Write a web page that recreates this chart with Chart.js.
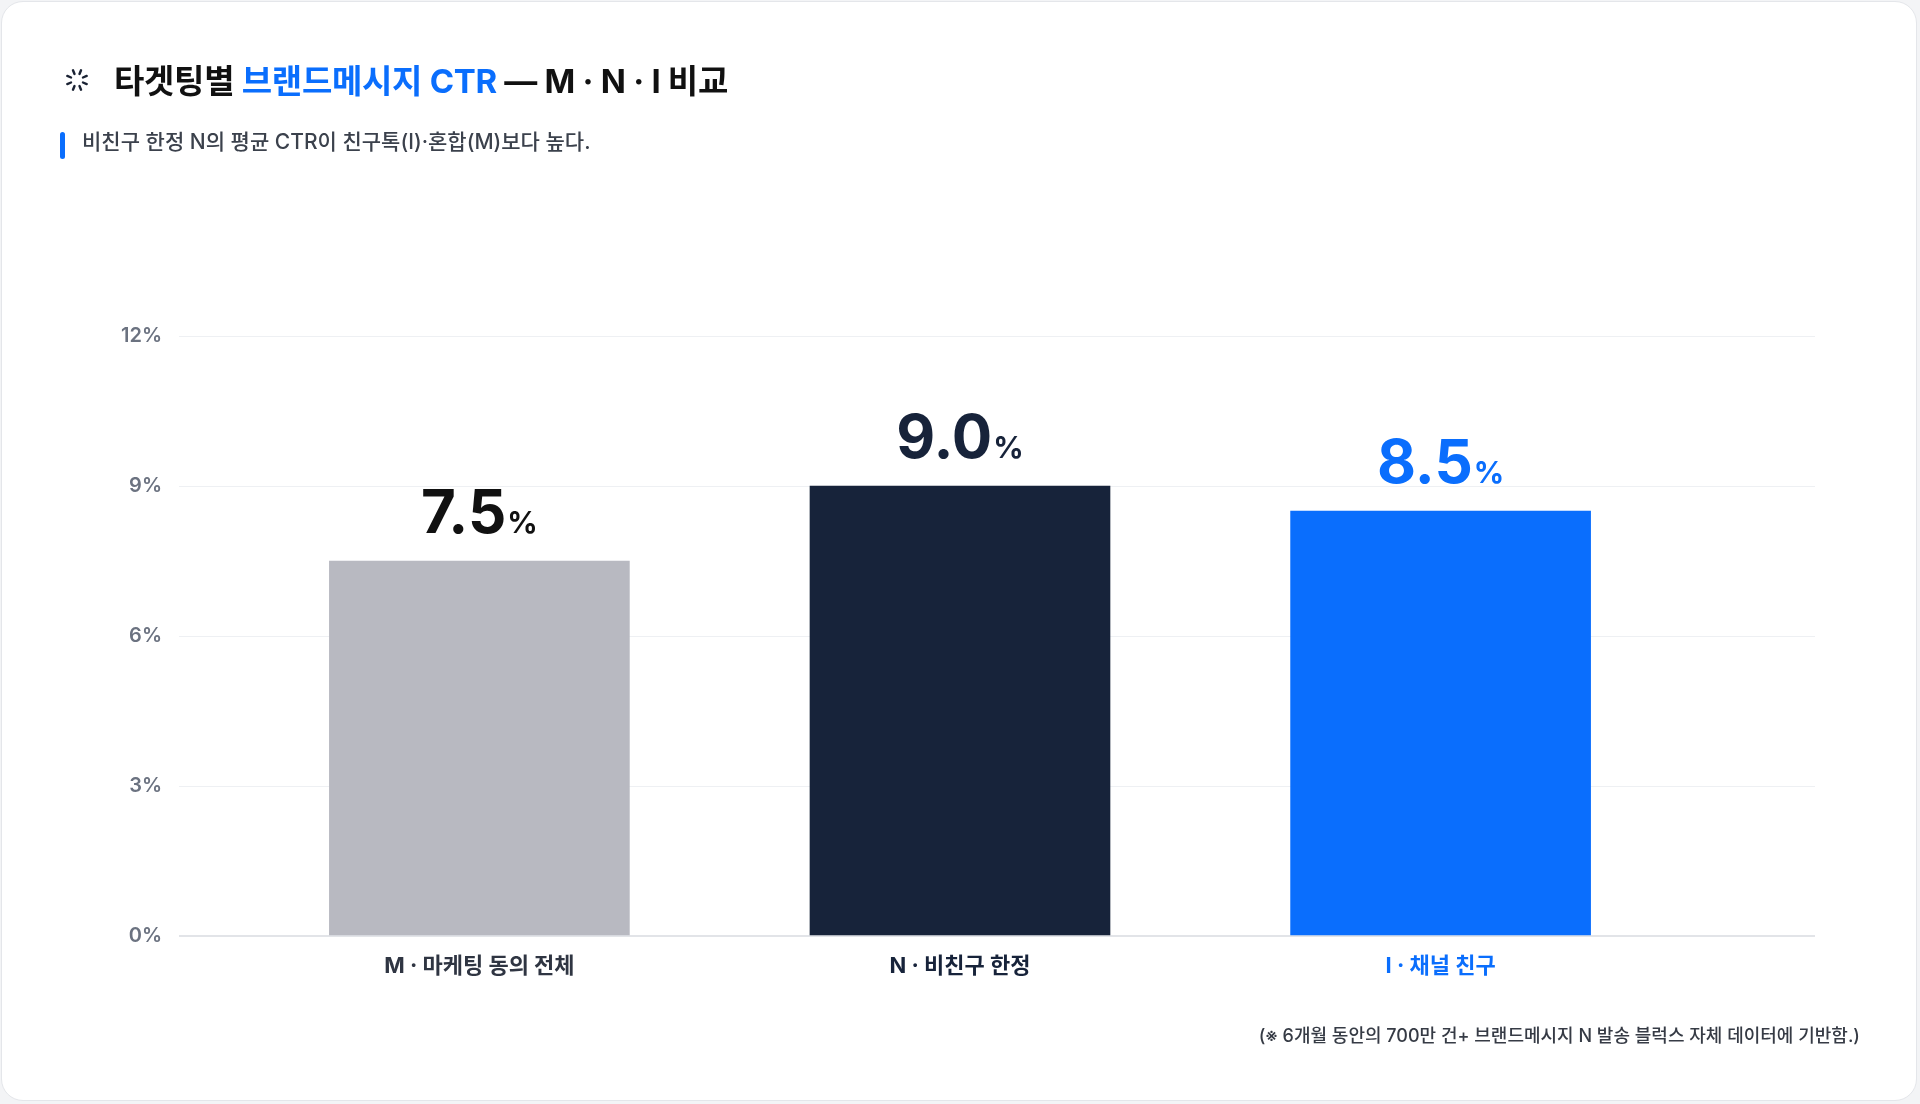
<!DOCTYPE html>
<html lang="ko">
<head>
<meta charset="utf-8">
<title>타겟팅별 브랜드메시지 CTR</title>
<script src="https://cdn.jsdelivr.net/npm/chart.js@4.4.1/dist/chart.umd.min.js"></script>
<style>
  html, body { margin: 0; padding: 0; }
  body {
    width: 1920px; height: 1104px; position: relative; overflow: hidden;
    background: #f3f4f6;
    font-family: "Inter", "Noto Sans CJK KR", sans-serif;
  }
  .card {
    position: absolute; left: 1px; top: 1px; width: 1914px; height: 1098px;
    background: #fff; border: 1px solid #e4e6ea; border-radius: 22px;
  }
  .chart-wrap { position: absolute; left: 0; top: 0; width: 1920px; height: 1104px; }
  .icon { position: absolute; left: 64px; top: 67px; }
  .title {
    position: absolute; left: 114px; top: 60px; line-height: 42px;
    font-size: 33px; font-weight: 700; color: #111111; letter-spacing: -0.3px;
    white-space: nowrap;
  }
  .title .hl { color: #0a6efd; }
  .sub-bar {
    position: absolute; left: 60px; top: 132px; width: 5px; height: 27px;
    background: #0a6efd; border-radius: 3px;
  }
  .subtitle {
    position: absolute; left: 82px; top: 128px; line-height: 28px;
    font-size: 21px; font-weight: 500; color: #3b414c; white-space: nowrap;
  }
  .note {
    position: absolute; right: 60px; top: 1023px; line-height: 26px;
    font-size: 18px; font-weight: 500; color: #363b45; white-space: nowrap;
  }
</style>
</head>
<body>
<div class="card"></div>
<div class="chart-wrap"><canvas id="ctrChart"></canvas></div>

<svg class="icon" width="26" height="26" viewBox="-13 -13 26 26">
  <g stroke="#1a2233" stroke-width="2.4" stroke-linecap="round">
    <line x1="0" y1="-6.5" x2="0" y2="-10.5" transform="rotate(22.5)"/>
    <line x1="0" y1="-6.5" x2="0" y2="-10.5" transform="rotate(67.5)"/>
    <line x1="0" y1="-6.5" x2="0" y2="-10.5" transform="rotate(112.5)"/>
    <line x1="0" y1="-6.5" x2="0" y2="-10.5" transform="rotate(157.5)"/>
    <line x1="0" y1="-6.5" x2="0" y2="-10.5" transform="rotate(202.5)"/>
    <line x1="0" y1="-6.5" x2="0" y2="-10.5" transform="rotate(247.5)"/>
    <line x1="0" y1="-6.5" x2="0" y2="-10.5" transform="rotate(292.5)"/>
    <line x1="0" y1="-6.5" x2="0" y2="-10.5" transform="rotate(337.5)"/>
  </g>
</svg>
<div class="title">타겟팅별 <span class="hl">브랜드메시지 CTR</span> — M · N · I 비교</div>
<div class="sub-bar"></div>
<div class="subtitle">비친구 한정 N의 평균 CTR이 친구톡(I)·혼합(M)보다 높다.</div>
<div class="note">(※ 6개월 동안의 700만 건+ 브랜드메시지 N 발송 블럭스 자체 데이터에 기반함.)</div>

<script>
const categories = ["M · 마케팅 동의 전체", "N · 비친구 한정", "I · 채널 친구"];
const ctrValues = [7.5, 9.0, 8.5];
const yTickValues = [0, 3, 6, 9, 12];

const barColors = ["#b8b9c1", "#17233a", "#0a6efd"];
const valueColors = ["#111111", "#17233a", "#0a6efd"];
const catColors = ["#2f3542", "#17233a", "#0a6efd"];

// big number + small "%" above each bar
const valueLabels = {
  id: "valueLabels",
  afterDatasetsDraw(chart) {
    const { ctx } = chart;
    const meta = chart.getDatasetMeta(0);
    meta.data.forEach((bar, i) => {
      const num = ctrValues[i].toFixed(1);
      ctx.save();
      ctx.textBaseline = "alphabetic";
      ctx.textAlign = "left";
      ctx.fillStyle = valueColors[i];
      ctx.font = "700 60px Inter, sans-serif";
      const wNum = ctx.measureText(num).width;
      ctx.font = "700 30px Inter, sans-serif";
      const wPct = ctx.measureText("%").width;
      const gap = 1;
      const x0 = bar.x - (wNum + gap + wPct) / 2;
      const y0 = bar.y - 28;
      ctx.font = "700 60px Inter, sans-serif";
      ctx.fillText(num, x0, y0);
      ctx.font = "700 30px Inter, sans-serif";
      ctx.fillText("%", x0 + wNum + gap, y0);
      ctx.restore();
    });
  },
};

new Chart(document.getElementById("ctrChart"), {
  type: "bar",
  data: {
    datasets: [
      {
        data: ctrValues.map((v, i) => ({ x: i + 1, y: v })),
        backgroundColor: barColors,
        borderWidth: 0,
        barThickness: 300,
      },
    ],
  },
  options: {
    responsive: true,
    maintainAspectRatio: false,
    animation: false,
    devicePixelRatio: 1,
    layout: { padding: { left: 0, top: 336, right: 105, bottom: 0 } },
    plugins: {
      legend: { display: false },
      tooltip: { enabled: false },
    },
    scales: {
      x: {
        type: "linear",
        min: 0.375,
        max: 3.779,
        offset: false,
        grid: { display: false },
        border: { display: false },
        afterBuildTicks: (axis) => {
          axis.ticks = categories.map((_, i) => ({ value: i + 1 }));
        },
        afterFit: (axis) => { axis.height = 168; },
        ticks: {
          autoSkip: false,
          maxRotation: 0,
          padding: 9,
          callback: (v) => categories[v - 1],
          color: (c) => catColors[c.index],
          font: { family: "Inter, 'Noto Sans CJK KR', sans-serif", size: 22, weight: "700" },
        },
      },
      y: {
        min: 0,
        max: 12,
        afterBuildTicks: (axis) => {
          axis.ticks = yTickValues.map((v) => ({ value: v }));
        },
        afterFit: (axis) => { axis.width = 179; },
        border: { display: false },
        grid: {
          drawTicks: false,
          color: (c) => (c.tick.value === 0 ? "#e2e4e8" : "#eef0f3"),
          lineWidth: (c) => (c.tick.value === 0 ? 2 : 1),
        },
        ticks: {
          padding: 17,
          color: "#6b7280",
          callback: (v) => v + "%",
          font: { family: "Inter, sans-serif", size: 20, weight: "600" },
        },
      },
    },
  },
  plugins: [valueLabels],
});
</script>
</body>
</html>
